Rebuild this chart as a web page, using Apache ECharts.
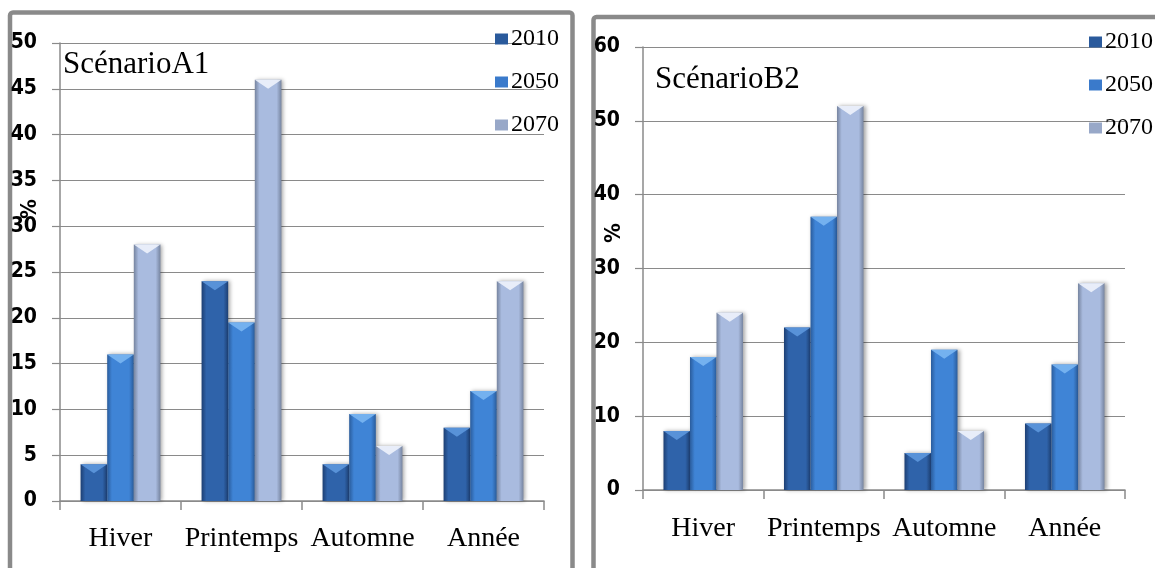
<!DOCTYPE html>
<html>
<head>
<meta charset="utf-8">
<script src="https://cdn.jsdelivr.net/npm/echarts@6/dist/echarts.min.js"></script>
<style>
html,body{margin:0;padding:0;background:#fff;}
#c{width:1155px;height:568px;}
</style>
</head>
<body>
<div id="c"></div>
<script>
// ---- data ----
var categories = ['Hiver', 'Printemps', 'Automne', 'Année'];
var years = ['2010', '2050', '2070'];
var titleA1 = 'ScénarioA1';
var titleB2 = 'ScénarioB2';
var yNameLabel = '%';
var a1_2010 = [4, 24, 4, 8];
var a1_2050 = [16, 19.5, 9.5, 12];
var a1_2070 = [28, 46, 6, 24];
var b2_2010 = [8, 22, 5, 9];
var b2_2050 = [18, 37, 19, 17];
var b2_2070 = [24, 52, 8, 28];
var a1Axis = {min: 0, max: 50, interval: 5};
var b2Axis = {min: 0, max: 60, interval: 10};

// ---- styles ----
var palette = {
  '2010': {edge: '#1d3f73', mid: '#2f63aa', top: '#5d97dd', legend: '#2a5a9c'},
  '2050': {edge: '#2a5c9c', mid: '#3f84d6', top: '#7ab6f2', legend: '#3a7acb'},
  '2070': {edge: '#76849f', mid: '#a9bbdf', top: '#eef3fc', legend: '#98a8c8'}
};
function grad(p) {
  return new echarts.graphic.LinearGradient(0, 0, 1, 0, [
    {offset: 0, color: p.edge},
    {offset: 0.18, color: p.mid},
    {offset: 0.82, color: p.mid},
    {offset: 1, color: p.edge}
  ]);
}
var serif = "'Liberation Serif', 'Times New Roman', serif";
var narrow = "'DejaVu Sans Condensed', sans-serif";
var gray = '#8a8a8a';

function xAxisFor(g, margin) {
  return {
    type: 'category', gridIndex: g, data: categories,
    axisLine: {lineStyle: {color: gray, width: 1.5}},
    axisTick: {show: true, length: 9, lineStyle: {color: gray, width: 1.5}},
    axisLabel: {interval: 0, fontFamily: serif, fontSize: 28, color: '#000', margin: margin},
    splitLine: {show: false}
  };
}
function yAxisFor(g, ax) {
  return {
    type: 'value', gridIndex: g, min: ax.min, max: ax.max, interval: ax.interval,
    axisLine: {show: true, lineStyle: {color: gray, width: 1.5}},
    axisTick: {show: true, length: 8, lineStyle: {color: gray, width: 1.2}},
    axisLabel: {fontFamily: narrow, fontWeight: 'bold', fontSize: 21, color: '#000', margin: 23},
    splitLine: {show: true, lineStyle: {color: gray, width: 1.2}}
  };
}
var series = [];
function addGroup(g, arrs) {
  arrs.forEach(function (arr, i) {
    var p = palette[years[i]];
    series.push({
      type: 'bar', name: years[i], xAxisIndex: g, yAxisIndex: g, data: arr,
      barGap: '0%', barCategoryGap: '34%',
      itemStyle: {color: grad(p), shadowColor: 'rgba(0,0,0,0.35)', shadowBlur: 4, shadowOffsetX: 2, shadowOffsetY: 0},
      emphasis: {disabled: true}, z: 2
    });
  });
  arrs.forEach(function (arr, i) {
    var p = palette[years[i]];
    series.push({
      type: 'pictorialBar', name: years[i] + ' ', xAxisIndex: g, yAxisIndex: g, data: arr,
      barGap: '0%', barCategoryGap: '34%',
      symbol: 'path://M0,0 L20,0 L10,8 Z',
      symbolSize: ['100%', 9],
      symbolPosition: 'end',
      symbolOffset: [0, 0],
      itemStyle: {color: p.top, opacity: 0.9},
      emphasis: {disabled: true}, z: 3, silent: true
    });
  });
}
addGroup(0, [a1_2010, a1_2050, a1_2070]);
addGroup(1, [b2_2010, b2_2050, b2_2070]);

function legendFor(left, top) {
  return {
    orient: 'vertical', left: left, top: top, itemGap: 19, itemWidth: 13, itemHeight: 11,
    icon: 'rect', padding: 0, selectedMode: false,
    textStyle: {fontFamily: serif, fontSize: 24, color: '#000', lineHeight: 24, padding: [0, 0, 0, -2]},
    data: years.map(function (y) { return {name: y, itemStyle: {color: palette[y].legend}}; })
  };
}

var chart = echarts.init(document.getElementById('c'), null, {renderer: 'canvas'});
chart.setOption({
  animation: false,
  backgroundColor: '#fff',
  grid: [
    {left: 60, top: 43, width: 484, height: 458},
    {left: 643, top: 47, width: 482, height: 443}
  ],
  xAxis: [xAxisFor(0, 24), xAxisFor(1, 25)],
  yAxis: [yAxisFor(0, a1Axis), yAxisFor(1, b2Axis)],
  legend: [legendFor(495, 27), legendFor(1089, 30)],
  series: series,
  graphic: [
    {type: 'rect', shape: {x: 10, y: 12.5, width: 562.5, height: 620, r: 3}, style: {fill: 'none', stroke: gray, lineWidth: 4.5}, z: 0, silent: true},
    {type: 'rect', shape: {x: 593.5, y: 17, width: 620, height: 620, r: 3}, style: {fill: 'none', stroke: gray, lineWidth: 4.5}, z: 0, silent: true},
    {type: 'text', x: 63, y: 65, style: {text: titleA1, font: '31px ' + serif, fill: '#000', verticalAlign: 'middle'}, z: 10},
    {type: 'text', x: 655, y: 80, style: {text: titleB2, font: '31px ' + serif, fill: '#000', verticalAlign: 'middle'}, z: 10},
    {type: 'text', x: 30, y: 209, rotation: Math.PI / 2, style: {text: yNameLabel, font: 'bold 22px ' + narrow, fill: '#000', align: 'center', verticalAlign: 'middle'}, z: 10},
    {type: 'text', x: 614, y: 233, rotation: Math.PI / 2, style: {text: yNameLabel, font: 'bold 22px ' + narrow, fill: '#000', align: 'center', verticalAlign: 'middle'}, z: 10}
  ]
});
</script>
</body>
</html>
